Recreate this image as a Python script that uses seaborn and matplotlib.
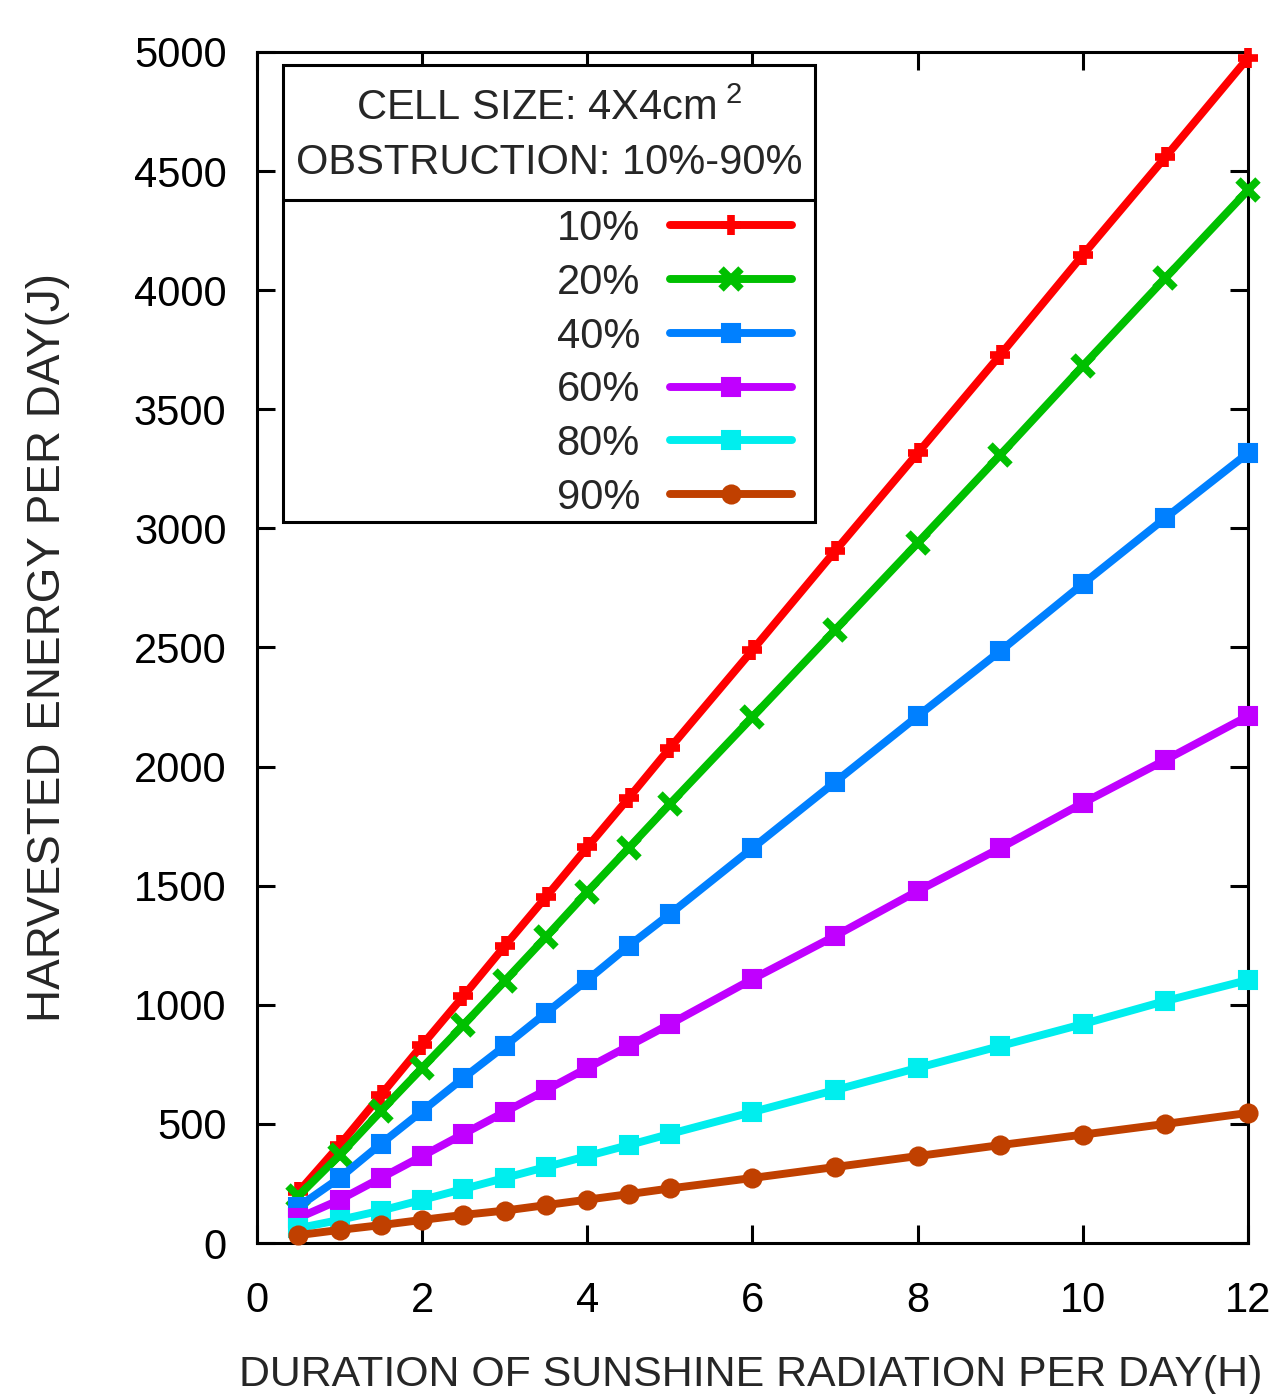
import matplotlib
matplotlib.use("Agg")
import matplotlib.pyplot as plt
from matplotlib import font_manager as fm
from matplotlib.patches import Rectangle
from matplotlib.lines import Line2D
import seaborn as sns
import pandas as pd

# ---------------- data ----------------
hours = [0.5, 1, 1.5, 2, 2.5, 3, 3.5, 4, 4.5, 5, 6, 7, 8, 9, 10, 11, 12]
obs_10 = [214, 411, 621, 831, 1037, 1247, 1453, 1662, 1868, 2078, 2489, 2905, 3316, 3728, 4148, 4559, 4975]
obs_20 = [197, 369, 554, 735, 915, 1100, 1285, 1474, 1658, 1843, 2208, 2573, 2939, 3308, 3682, 4051, 4420]
obs_40 = [152, 273, 416, 554, 693, 827, 966, 1104, 1247, 1381, 1658, 1935, 2212, 2485, 2767, 3044, 3316]
obs_60 = [105, 181, 273, 365, 458, 550, 642, 735, 827, 919, 1108, 1289, 1478, 1658, 1847, 2028, 2212]
obs_80 = [62, 97, 136, 181, 227, 273, 319, 365, 411, 458, 550, 642, 735, 827, 919, 1016, 1104]
obs_90 = [33, 55, 75, 97, 118, 136, 159, 182, 205, 229, 273, 319, 365, 411, 455, 500, 546]

series_labels = ["10%", "20%", "40%", "60%", "80%", "90%"]
series_values = [obs_10, obs_20, obs_40, obs_60, obs_80, obs_90]
series_colors = ["#ff0000", "#00c000", "#0080ff", "#c000ff", "#00eeee", "#c04000"]
series_markers = ["+", "x", "s", "s", "s", "o"]

x_ticks = [0, 2, 4, 6, 8, 10, 12]
y_ticks = [0, 500, 1000, 1500, 2000, 2500, 3000, 3500, 4000, 4500, 5000]

title_line1 = "CELL SIZE: 4X4cm$^{\\ 2}$"
title_line2 = "OBSTRUCTION: 10%-90%"
x_label = "DURATION OF SUNSHINE RADIATION PER DAY(H)"
y_label = "HARVESTED ENERGY PER DAY(J)"

# ---------------- style ----------------
sns.set_style("ticks")
names = {f.name for f in fm.fontManager.ttflist}
base_font = "Liberation Sans" if "Liberation Sans" in names else "DejaVu Sans"
plt.rcParams["font.family"] = [base_font, "DejaVu Sans"]
plt.rcParams["mathtext.fontset"] = "custom"
plt.rcParams["mathtext.rm"] = base_font
plt.rcParams["mathtext.it"] = base_font
plt.rcParams["mathtext.bf"] = base_font

if "Liberation Sans Narrow" in names:
    xlabel_font = {"family": ["Liberation Sans Narrow", base_font], "size": 37}
    ylabel_font = {"family": ["Liberation Sans Narrow", base_font], "size": 37}
else:
    xlabel_font = {"family": [base_font], "size": 30.9}
    ylabel_font = {"family": [base_font], "size": 33}

FS = 30

fig = plt.figure(figsize=(12.79, 13.94), dpi=100)
ax = fig.add_axes([0.20094, 0.10832, 0.77482, 0.85438])

frames = []
for lab, vals in zip(series_labels, series_values):
    frames.append(pd.DataFrame({"hours": hours, "energy": vals, "obstruction": lab}))
df = pd.concat(frames, ignore_index=True)

for lab, col, mk in zip(series_labels, series_colors, series_markers):
    sub = df[df["obstruction"] == lab]
    if mk in ("+", "x"):
        msz, mew = 15, 5.5
    else:
        msz, mew = 13, 1.5
    sns.lineplot(data=sub, x="hours", y="energy", ax=ax, color=col,
                 marker=mk, markersize=msz, markeredgewidth=mew,
                 markeredgecolor=col, markerfacecolor=col,
                 linewidth=5.7, label=lab, clip_on=False, zorder=3,
                 legend=False)

ax.set_xlim(0, 12)
ax.set_ylim(0, 5000)
ax.set_xticks(x_ticks)
ax.set_yticks(y_ticks)
ax.tick_params(axis="both", direction="in", length=13, width=2.2,
               top=True, right=True, labelsize=FS, colors="black")
ax.tick_params(axis="x", pad=27)
ax.tick_params(axis="y", pad=22)
for sp in ax.spines.values():
    sp.set_linewidth(2.2)
    sp.set_color("black")
    sp.set_visible(True)

ax.set_xlabel(x_label, fontdict=xlabel_font, va="center")
ax.set_ylabel(y_label, fontdict=ylabel_font, va="center")
ax.xaxis.set_label_coords(0.4985, -0.1105)
ax.yaxis.set_label_coords(-0.211, 0.5)

# ---------------- key box ----------------
x0, x1 = 0.0262, 0.5631
y0, y1 = 0.6054, 0.9891
ysep = 0.8757
ax.add_patch(Rectangle((x0, y0), x1 - x0, y1 - y0, transform=ax.transAxes,
                       facecolor="white", edgecolor="black", linewidth=2.2,
                       zorder=5, clip_on=False))
ax.add_line(Line2D([x0, x1], [ysep, ysep], transform=ax.transAxes,
                   color="black", linewidth=2.2, zorder=6, clip_on=False))
xc = (x0 + x1) / 2
ax.text(xc, 0.9429, title_line1, transform=ax.transAxes, ha="center",
        va="baseline", fontsize=FS, zorder=7)
ax.text(xc, 0.8975, title_line2, transform=ax.transAxes, ha="center",
        va="baseline", fontsize=FS, zorder=7)

handles = [Line2D([], [], color=c, marker=m, linewidth=5.7,
                  markersize=(15 if m in ("+", "x") else 13),
                  markeredgewidth=(5.5 if m in ("+", "x") else 1.5),
                  markeredgecolor=c, markerfacecolor=c)
           for c, m in zip(series_colors, series_markers)]
leg = ax.legend(handles, series_labels, loc="center right",
                bbox_to_anchor=(0.5399, 0.7385), frameon=False,
                markerfirst=False, numpoints=1, fontsize=FS,
                handlelength=2.93, handletextpad=0.72, labelspacing=0.33,
                borderpad=0, borderaxespad=0)
leg.set_zorder(8)

fig.savefig("out.png", dpi=100)
